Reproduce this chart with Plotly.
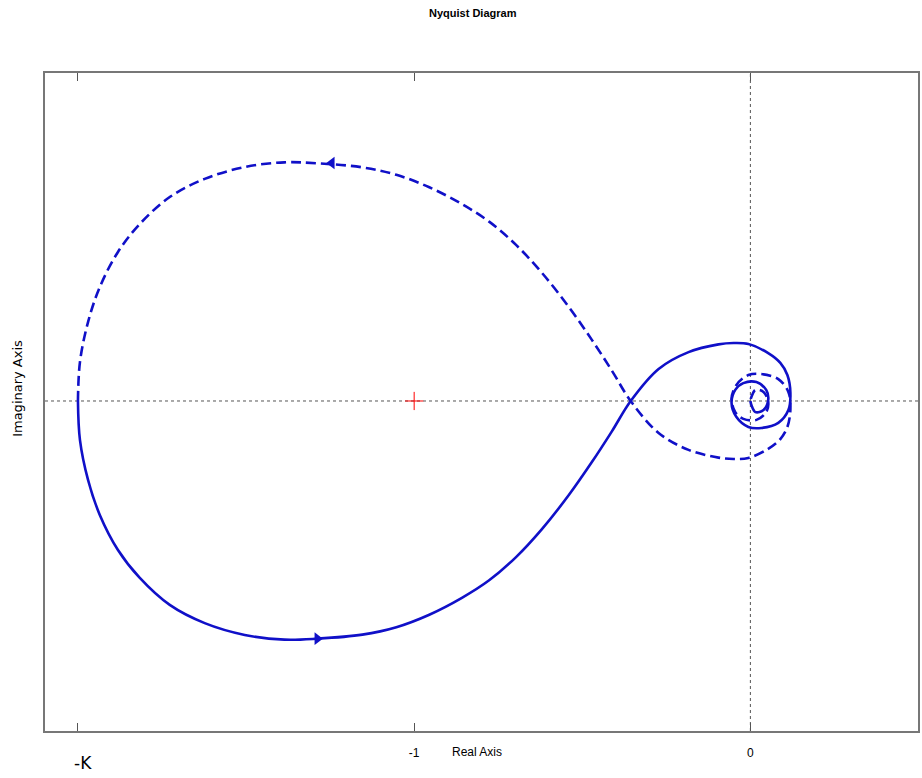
import plotly.graph_objects as go

# Positive-frequency branch (solid)
pos_re = [-2.000, -1.994, -1.970, -1.935, -1.881, -1.816, -1.727, -1.623, -1.504, -1.386,
          -1.288, -1.154, -1.053, -0.955, -0.858, -0.777, -0.697, -0.620, -0.540, -0.472,
          -0.412, -0.356, -0.273,
          -0.184, -0.095, -0.050, -0.006, 0.053, 0.089, 0.110, 0.119, 0.113, 0.083,
          0.033, -0.006, -0.042, -0.056, -0.045, -0.021, 0.018, 0.047, 0.053, 0.039,
          0.015, 0.003, 0.000]
pos_im = [0.000, -0.116, -0.234, -0.338, -0.442, -0.525, -0.605, -0.659, -0.694, -0.708,
          -0.705, -0.693, -0.671, -0.634, -0.584, -0.532, -0.463, -0.380, -0.279, -0.182,
          -0.090, 0.000, 0.095,
          0.145, 0.168, 0.172, 0.169, 0.142, 0.113, 0.077, 0.024, -0.027, -0.065,
          -0.080, -0.077, -0.047, -0.006, 0.033, 0.053, 0.056, 0.033, 0.003, -0.027,
          -0.033, -0.012, 0.000]

# Negative-frequency branch (dashed)
neg_re = [-2.000, -1.994, -1.970, -1.935, -1.881, -1.816, -1.727, -1.623, -1.504, -1.386,
          -1.288, -1.154, -1.053, -0.955, -0.858, -0.777, -0.697, -0.620, -0.540, -0.472,
          -0.412, -0.356, -0.273,
          -0.184, -0.095, -0.050, -0.006, 0.053, 0.089, 0.110, 0.119, 0.113, 0.083,
          0.033, -0.006, -0.042, -0.056, -0.045, -0.021, 0.018, 0.047, 0.053, 0.039,
          0.015, 0.003, 0.000]
neg_im = [0.000, 0.116, 0.234, 0.338, 0.442, 0.525, 0.605, 0.659, 0.694, 0.708,
          0.705, 0.693, 0.671, 0.634, 0.584, 0.532, 0.463, 0.380, 0.279, 0.182,
          0.090, 0.000, -0.095,
          -0.145, -0.168, -0.172, -0.169, -0.142, -0.113, -0.077, -0.024, 0.027, 0.065,
          0.080, 0.077, 0.047, 0.006, -0.033, -0.053, -0.056, -0.033, -0.003, 0.027,
          0.033, 0.012, 0.000]

# Direction arrows
arrow_pos = (-1.288, -0.705)
arrow_neg = (-1.245, 0.706)

critical_point = (-1, 0)

tick_vals = [-2, -1, 0]
tick_text = ["", "-1", "0"]

blue = "#1010c8"

fig = go.Figure()
fig.add_trace(go.Scatter(x=pos_re, y=pos_im, mode="lines",
                         line=dict(color=blue, width=2.6, shape="spline", smoothing=1.0),
                         showlegend=False, hoverinfo="skip"))
fig.add_trace(go.Scatter(x=neg_re, y=neg_im, mode="lines",
                         line=dict(color=blue, width=2.6, dash="10px,5px", shape="spline", smoothing=1.0),
                         showlegend=False, hoverinfo="skip"))
fig.add_trace(go.Scatter(x=[arrow_pos[0]], y=[arrow_pos[1]], mode="markers",
                         marker=dict(symbol="triangle-right", size=11, color=blue),
                         showlegend=False, hoverinfo="skip"))
fig.add_trace(go.Scatter(x=[arrow_neg[0]], y=[arrow_neg[1]], mode="markers",
                         marker=dict(symbol="triangle-left", size=11, color=blue),
                         showlegend=False, hoverinfo="skip"))
fig.add_trace(go.Scatter(x=[critical_point[0]], y=[critical_point[1]], mode="markers",
                         marker=dict(symbol="cross-thin", size=13, line=dict(color="red", width=1)),
                         showlegend=False, hoverinfo="skip"))

# dotted axes through origin
fig.add_shape(type="line", xref="paper", yref="y", x0=0, x1=1, y0=0, y1=0,
              line=dict(color="#555555", width=1, dash="dot"), layer="below")
fig.add_shape(type="line", xref="x", yref="paper", x0=0, x1=0, y0=0, y1=1,
              line=dict(color="#555555", width=1, dash="dot"), layer="below")

fig.update_layout(
    width=922, height=778,
    margin=dict(l=45, r=2, t=73, b=47),
    paper_bgcolor="white", plot_bgcolor="white",
    font=dict(family="Liberation Sans Narrow, Liberation Sans, Arial", color="black"),
    xaxis=dict(range=[-2.098, 0.4985], showgrid=False, zeroline=False,
               tickmode="array", tickvals=tick_vals, ticktext=tick_text,
               ticks="inside", ticklen=8, tickcolor="#555555", tickwidth=1,
               showline=True, linecolor="#777777", linewidth=1.5, mirror="ticks",
               ticklabelstandoff=10,
               tickfont=dict(size=12)),
    yaxis=dict(range=[-0.979, 0.973], showgrid=False, zeroline=False,
               showticklabels=False, ticks="",
               showline=True, linecolor="#777777", linewidth=1.5, mirror=True),
    annotations=[
        dict(text="<b>Nyquist Diagram</b>", xref="paper", yref="paper", x=0.49, y=1,
             yanchor="middle", yshift=60, showarrow=False,
             font=dict(size=11, family="Liberation Sans Narrow, Arial")),
        dict(text="Real Axis", xref="paper", yref="paper", x=0.495, y=0, yanchor="middle",
             yshift=-21, showarrow=False, font=dict(size=12, family="Liberation Sans Narrow, Arial")),
        dict(text="Imaginary Axis", xref="paper", yref="paper", x=0, xanchor="center",
             xshift=-27, y=0.52, textangle=-90, showarrow=False,
             font=dict(size=13, family="DejaVu Sans")),
        dict(text="-K", xref="x", yref="paper", x=-2, xshift=5, y=0, yanchor="middle",
             yshift=-32, showarrow=False, font=dict(size=17, family="DejaVu Sans")),
    ],
)

fig.write_html("out.html", config={"displayModeBar": False},
               post_script="document.body.style.margin='0';document.body.style.overflow='hidden';")
